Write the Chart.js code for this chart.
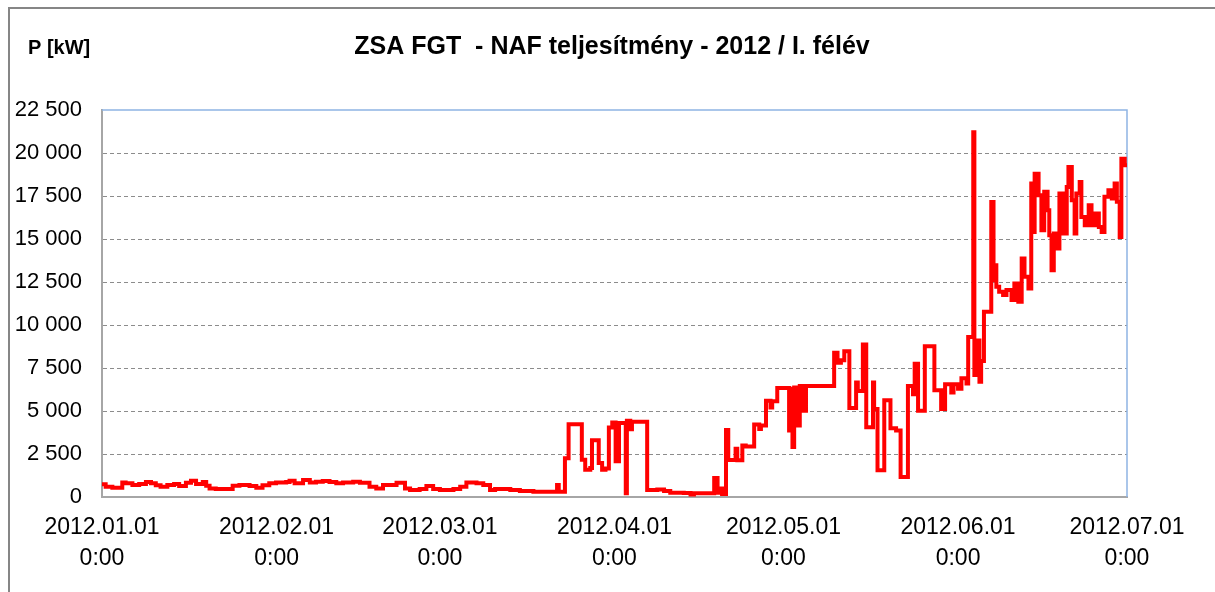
<!DOCTYPE html>
<html>
<head>
<meta charset="utf-8">
<script src="https://cdn.jsdelivr.net/npm/chart.js@4.4.1/dist/chart.umd.min.js"></script>
<style>
  html, body { margin: 0; padding: 0; background: #fff; }
  #wrap { width: 1215px; height: 592px; }
</style>
</head>
<body>
<div id="wrap"><canvas id="chart" width="1215" height="592"></canvas></div>
<script>
// day offsets from 2012.01.01 0:00 where a new power level starts (step chart)
const powerDays = [
  0, 0.65, 1.84, 3.6, 4.2, 5.4, 6.6, 7.8, 8.7, 9.55, 10.4, 11.6, 12.8, 13.7, 14.9, 15.8, 16.7, 17.9, 18.5, 19.1,
  20.2, 23.2, 24.4, 26.2, 27.4, 28.5, 29.7, 30.9, 32.7, 33.3, 34.2, 35.7, 36.9, 38.0, 39.2, 40.4, 41.6, 42.8,
  44.6, 45.8, 47.5, 48.7, 49.9, 52.3, 53.8, 54.7, 56.4, 57.6, 58.8, 60.0, 62.4, 63.6, 64.7, 66.5, 67.7, 68.9,
  69.8, 72.5, 74.2, 76.6, 80.8, 81.1, 82.2, 82.85, 85.2, 85.8, 86.7, 87.0, 88.2, 88.8, 89.4, 90.0, 90.6, 91.2,
  91.8, 93.0, 93.2, 93.8, 94.1, 96.8, 98.6, 99.8, 100.9, 103.3, 104.5, 105.1, 108.7, 109.3, 109.8, 110.1,
  110.8, 111.2, 112.5, 112.8, 113.7, 114.3, 115.8, 116.7, 117.0, 117.9, 118.7, 119.0, 119.9, 122.0, 122.3,
  122.6, 122.9, 123.5, 123.9, 124.4, 125.0, 130.0, 130.6, 131.2, 131.8, 132.7, 133.9, 134.2, 135.1, 135.7,
  136.9, 137.1, 137.7, 138.9, 140.0, 141.0, 141.8, 143.1, 144.0, 144.3, 144.9, 146.1, 147.8, 149.0, 149.7,
  150.8, 151.2, 152.0, 152.6, 153.5, 153.8, 154.7, 154.9, 155.6, 155.8, 156.1, 156.6, 157.9, 158.3, 158.4,
  158.8, 159.3, 160.0, 160.6, 161.5, 162.0, 162.7, 163.3, 163.8, 164.5, 165.0, 165.4, 165.6, 166.3, 166.8,
  167.3, 167.9, 168.2, 168.6, 169.0, 169.5, 170.0, 170.7, 171.3, 171.6, 172.2, 172.7, 173.0, 173.6, 173.9,
  174.5, 175.2, 175.7, 176.3, 177.0, 177.5, 178.0, 178.7, 179.3, 179.8, 180.2, 180.7, 181.0, 181.6, 182
];
const powerKW = [
  740, 600, 540, 850, 800, 700, 760, 870, 800, 680, 600, 700, 760, 640, 830, 950, 760, 870, 660, 500,
  470, 660, 700, 640, 540, 680, 800, 850, 870, 950, 800, 990, 850, 890, 930, 870, 800, 850,
  890, 830, 600, 500, 700, 830, 500, 410, 470, 640, 470, 410, 470, 600, 850, 800, 700, 410,
  470, 410, 350, 310, 700, 310, 2250, 4230, 2170, 1590, 1690, 3300, 1980, 1590, 1650, 4040, 4330, 2080,
  4300, 220, 4430, 3940, 4370, 400, 430, 350, 250, 230, 150, 220, 1100, 250, 500, 180,
  3900, 2150, 2800, 2130, 3000, 2940, 4210, 3960, 4150, 5600, 5210, 5560, 6330, 3870, 6300,
  2900, 6370, 4150, 6460, 5020, 6460, 8380, 7800, 7950, 8480, 5170, 6650, 6170, 8860, 4060,
  6650, 5110, 1560, 5630, 4000, 3870, 1170, 6460, 5980, 7750, 5020, 8770, 6210, 5110, 6560,
  6080, 6560, 6300, 6900, 6600, 9300, 21200, 7100, 9100, 6700, 7900, 10770, 17150, 12610, 13480,
  12220, 11930, 11740, 12030, 11450, 12410, 11350, 13870, 12800, 12120, 18220, 15410, 18800, 17540, 15510,
  17740, 16670, 15220, 13190, 15320, 14450, 17640, 15320, 18030, 19190, 17250, 15320, 17640, 18320, 16280,
  15800, 16960, 15800, 16480, 15700, 15410, 17450, 17830, 17350, 18220, 17160, 15120, 19670, 19290, 19290
];
const monthDays = [0, 31, 60, 91, 121, 152, 182];
const monthLabels = ['2012.01.01', '2012.02.01', '2012.03.01', '2012.04.01', '2012.05.01', '2012.06.01', '2012.07.01'];
const yMax = 22500;
const yStep = 2500;

const chartTitle = 'ZSA FGT  - NAF teljesítmény - 2012 / I. félév';
const unitLabel = 'P [kW]';

const fontMain = '"Liberation Sans", Arial, sans-serif';

function fmtKW(v) {
  if (v < 1000) return String(v);
  return Math.floor(v / 1000) + ' ' + String(v % 1000).padStart(3, '0');
}

// frame, title, unit label and the blue top/right border of the plot
const decor = {
  id: 'decor',
  beforeDraw(chart) {
    const ctx = chart.ctx;
    ctx.save();
    ctx.fillStyle = '#fff';
    ctx.fillRect(0, 0, chart.width, chart.height);
    ctx.strokeStyle = '#868686';
    ctx.lineWidth = 2;
    ctx.beginPath();
    ctx.moveTo(9, chart.height);
    ctx.lineTo(9, 8);
    ctx.lineTo(chart.width, 8);
    ctx.stroke();
    ctx.fillStyle = '#000';
    ctx.textBaseline = 'middle';
    ctx.textAlign = 'center';
    ctx.font = 'bold 25px ' + fontMain;
    ctx.fillText(chartTitle, 612, 47);
    ctx.textAlign = 'left';
    ctx.font = 'bold 20px ' + fontMain;
    ctx.fillText(unitLabel, 28, 48);
    ctx.restore();
  },
  beforeDatasetsDraw(chart) {
    const {ctx, chartArea: a} = chart;
    ctx.save();
    ctx.strokeStyle = '#8eb4e3';
    ctx.lineWidth = 1.5;
    ctx.beginPath();
    ctx.moveTo(a.left, a.top);
    ctx.lineTo(a.right, a.top);
    ctx.lineTo(a.right, a.bottom);
    ctx.stroke();
    ctx.restore();
  }
};

new Chart(document.getElementById('chart'), {
  type: 'line',
  data: {
    datasets: [{
      data: powerDays.map((d, i) => ({ x: d, y: powerKW[i] })),
      borderColor: '#ff0000',
      borderWidth: 4,
      pointRadius: 0,
      stepped: true,
      fill: false
    }]
  },
  options: {
    responsive: false,
    animation: false,
    layout: { padding: { top: 110, right: 88, bottom: 0, left: 0 } },
    plugins: { legend: { display: false }, title: { display: false }, tooltip: { enabled: false } },
    scales: {
      x: {
        type: 'linear',
        min: 0,
        max: 182,
        afterBuildTicks(axis) { axis.ticks = monthDays.map(v => ({ value: v })); },
        afterFit(scale) { scale.height = 95; },
        grid: { display: false, drawTicks: false },
        border: { display: true, color: '#a6a6a6', width: 2 },
        ticks: {
          autoSkip: false,
          maxRotation: 0,
          padding: 15,
          color: '#000',
          font: { family: fontMain, size: 23, lineHeight: 1.35 },
          callback(v) { return [monthLabels[monthDays.indexOf(v)], '0:00']; }
        }
      },
      y: {
        min: 0,
        max: yMax,
        afterFit(scale) { scale.width = 102; },
        grid: {
          drawTicks: false,
          color: c => (c.tick && (c.tick.value === 0 || c.tick.value === yMax)) ? 'rgba(0,0,0,0)' : '#8c8c8c',
          lineWidth: 1
        },
        border: { display: true, color: '#a6a6a6', width: 2, dash: [4, 3] },
        ticks: {
          stepSize: yStep,
          padding: 20,
          color: '#000',
          font: { family: fontMain, size: 22 },
          callback: v => fmtKW(v)
        }
      }
    }
  },
  plugins: [decor]
});
</script>
</body>
</html>
